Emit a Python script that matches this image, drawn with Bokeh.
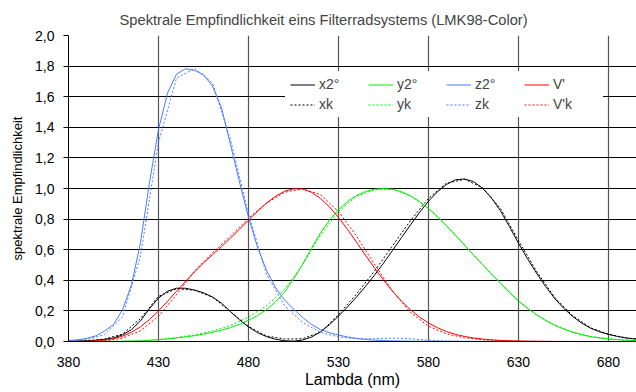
from bokeh.plotting import figure
from bokeh.models import (Legend, LegendItem, FixedTicker, CustomJSTickFormatter, Range1d)
from bokeh.embed import file_html
from bokeh.resources import INLINE

# wavelengths (nm) for the standard curves, 5 nm steps
wl5 = [380, 385, 390, 395, 400, 405, 410, 415, 420, 425, 430, 435, 440, 445, 450, 455,
       460, 465, 470, 475, 480, 485, 490, 495, 500, 505, 510, 515, 520, 525, 530, 535,
       540, 545, 550, 555, 560, 565, 570, 575, 580, 585, 590, 595, 600, 605, 610, 615,
       620, 625, 630, 635, 640, 645, 650, 655, 660, 665, 670, 675, 680, 685, 690, 695, 700]

x2 = [0.0014, 0.0022, 0.0042, 0.0077, 0.0143, 0.0232, 0.0435, 0.0776, 0.1344, 0.2148,
      0.2839, 0.3285, 0.3483, 0.3481, 0.3362, 0.3187, 0.2908, 0.2511, 0.1954, 0.1421,
      0.0956, 0.0580, 0.0320, 0.0147, 0.0049, 0.0024, 0.0093, 0.0291, 0.0633, 0.1096,
      0.1655, 0.2257, 0.2904, 0.3597, 0.4334, 0.5121, 0.5945, 0.6784, 0.7621, 0.8425,
      0.9163, 0.9786, 1.0263, 1.0567, 1.0622, 1.0456, 1.0026, 0.9384, 0.8544, 0.7514,
      0.6424, 0.5419, 0.4479, 0.3608, 0.2835, 0.2187, 0.1649, 0.1212, 0.0874, 0.0636,
      0.0468, 0.0329, 0.0227, 0.0160, 0.0114]

y2 = [0.0000, 0.0001, 0.0001, 0.0002, 0.0004, 0.0006, 0.0012, 0.0022, 0.0040, 0.0073,
      0.0116, 0.0168, 0.0230, 0.0298, 0.0380, 0.0480, 0.0600, 0.0739, 0.0910, 0.1126,
      0.1390, 0.1693, 0.2080, 0.2586, 0.3230, 0.4073, 0.5030, 0.6082, 0.7100, 0.7932,
      0.8620, 0.9149, 0.9540, 0.9800, 0.9950, 1.0000, 0.9950, 0.9786, 0.9520, 0.9154,
      0.8700, 0.8163, 0.7570, 0.6949, 0.6310, 0.5668, 0.5030, 0.4412, 0.3810, 0.3210,
      0.2650, 0.2170, 0.1750, 0.1382, 0.1070, 0.0816, 0.0610, 0.0446, 0.0320, 0.0232,
      0.0170, 0.0119, 0.0082, 0.0057, 0.0041]

z2 = [0.0065, 0.0106, 0.0201, 0.0362, 0.0679, 0.1102, 0.2074, 0.3713, 0.6456, 1.0391,
      1.3856, 1.6230, 1.7471, 1.7826, 1.7721, 1.7441, 1.6692, 1.5281, 1.2876, 1.0419,
      0.8130, 0.6162, 0.4652, 0.3533, 0.2720, 0.2123, 0.1582, 0.1117, 0.0783, 0.0573,
      0.0422, 0.0298, 0.0203, 0.0134, 0.0088, 0.0058, 0.0039, 0.0028, 0.0021, 0.0018,
      0.0017, 0.0014, 0.0011, 0.0010, 0.0008, 0.0006, 0.0003, 0.0002, 0.0002, 0.0001,
      0.0000, 0.0000, 0.0000, 0.0000, 0.0000, 0.0000, 0.0000, 0.0000, 0.0000, 0.0000,
      0.0000, 0.0000, 0.0000, 0.0000, 0.0000]

v_s = [0.0006, 0.0011, 0.0022, 0.0045, 0.0093, 0.0185, 0.0348, 0.0604, 0.0966, 0.1436,
       0.1998, 0.2625, 0.3281, 0.3931, 0.4550, 0.5130, 0.5670, 0.6200, 0.6760, 0.7340,
       0.7930, 0.8510, 0.9040, 0.9490, 0.9820, 0.9980, 0.9970, 0.9750, 0.9350, 0.8800,
       0.8110, 0.7330, 0.6500, 0.5640, 0.4810, 0.4020, 0.3288, 0.2639, 0.2076, 0.1602,
       0.1212, 0.0899, 0.0655, 0.0469, 0.0332, 0.0231, 0.0159, 0.0109, 0.0074, 0.0050,
       0.0033, 0.0022, 0.0015, 0.0010, 0.0007, 0.0005, 0.0003, 0.0002, 0.0001, 0.0001,
       0.0001, 0.0001, 0.0000, 0.0000, 0.0000]

# filter-wheel (LMK98-Color) curves, 10 nm steps
wl10 = [380, 390, 400, 410, 420, 430, 440, 450, 460, 470, 480, 490, 500, 510, 520, 530,
        540, 550, 560, 570, 580, 590, 600, 610, 620, 630, 640, 650, 660, 670, 680, 690, 700]

xk = [0.002, 0.005, 0.016, 0.048, 0.150, 0.295, 0.345, 0.335, 0.290, 0.195, 0.098, 0.036,
      0.016, 0.018, 0.060, 0.175, 0.310, 0.460, 0.625, 0.790, 0.935, 1.035, 1.060, 1.006,
      0.870, 0.660, 0.460, 0.290, 0.170, 0.090, 0.048, 0.023, 0.012]

yk = [0.000, 0.000, 0.001, 0.002, 0.005, 0.013, 0.026, 0.043, 0.068, 0.105, 0.160, 0.232,
      0.340, 0.500, 0.695, 0.850, 0.948, 0.992, 0.995, 0.952, 0.870, 0.757, 0.631, 0.503,
      0.381, 0.266, 0.176, 0.108, 0.062, 0.033, 0.018, 0.009, 0.005]

zk = [0.004, 0.012, 0.045, 0.160, 0.560, 1.300, 1.720, 1.785, 1.690, 1.320, 0.835, 0.440,
      0.235, 0.125, 0.060, 0.030, 0.018, 0.018, 0.022, 0.018, 0.008, 0.003, 0.001, 0.000,
      0.000, 0.000, 0.000, 0.000, 0.000, 0.000, 0.000, 0.000, 0.000]

vk = [0.000, 0.001, 0.005, 0.022, 0.070, 0.165, 0.305, 0.460, 0.580, 0.690, 0.805, 0.905,
      0.975, 0.998, 0.960, 0.850, 0.690, 0.505, 0.330, 0.190, 0.100, 0.050, 0.025, 0.011,
      0.005, 0.002, 0.001, 0.000, 0.000, 0.000, 0.000, 0.000, 0.000]

x_ticks = [380, 430, 480, 530, 580, 630, 680]
y_ticks = [0.0, 0.2, 0.4, 0.6, 0.8, 1.0, 1.2, 1.4, 1.6, 1.8, 2.0]

TITLE = "Spektrale Empfindlichkeit eins Filterradsystems (LMK98-Color)"
FONT = "Liberation Sans"

p = figure(width=636, height=392, output_backend="svg", toolbar_location=None,
           x_range=Range1d(380, 695.6), y_range=Range1d(0, 2.0),
           min_border_left=68, min_border_right=0, min_border_top=35, min_border_bottom=51)
p.outline_line_color = None
p.background_fill_color = "white"

p.title.text = TITLE
p.title.text_font = FONT
p.title.text_font_size = "14.7px"
p.title.text_font_style = "normal"
p.title.align = "left"
p.title.offset = 51
p.title.standoff = 14
p.title.vertical_align = "middle"

# axes
p.xaxis.ticker = FixedTicker(ticks=x_ticks)
p.yaxis.ticker = FixedTicker(ticks=y_ticks)
p.yaxis.formatter = CustomJSTickFormatter(code="return tick.toFixed(1).replace('.', ',');")
for ax in (p.xaxis[0], p.yaxis[0]):
    ax.axis_line_color = "black"
    ax.major_label_text_font = FONT
    ax.major_label_text_font_size = "14px"
    ax.major_label_text_color = "black"
    ax.axis_label_text_font = FONT
    ax.axis_label_text_font_size = "13px"
    ax.axis_label_text_font_style = "normal"
    ax.axis_label_text_color = "black"
    ax.minor_tick_line_color = None
    ax.major_tick_in = 0

p.xaxis.axis_label = "Lambda (nm)"
p.xaxis.axis_label_text_font_size = "16px"
p.xaxis.major_tick_out = 0
p.xaxis.major_label_standoff = 15
p.xaxis.axis_label_standoff = 1

p.yaxis.axis_label = "spektrale Empfindlichkeit"
p.yaxis.major_tick_out = 5
p.yaxis.major_tick_line_color = "black"
p.yaxis.major_label_standoff = 9
p.yaxis.axis_label_standoff = 7

p.xgrid.grid_line_color = "#555555"
p.xgrid.grid_line_width = 1.2
p.ygrid.grid_line_color = "black"
p.ygrid.grid_line_width = 1

BLACK, GREEN, BLUE, RED = "#000000", "#00ee00", "#4a7bff", "#ff0000"

r_x = p.line(wl5, x2, line_color=BLACK, line_width=1)
r_y = p.line(wl5, y2, line_color=GREEN, line_width=1)
r_z = p.line(wl5, z2, line_color=BLUE, line_width=1)
r_v = p.line(wl5, v_s, line_color=RED, line_width=1)
r_xk = p.line(wl10, xk, line_color=BLACK, line_width=1, line_dash="2 2")
r_yk = p.line(wl10, yk, line_color=GREEN, line_width=1, line_dash="2 2")
r_zk = p.line(wl10, zk, line_color=BLUE, line_width=1, line_dash="2 2")
r_vk = p.line(wl10, vk, line_color=RED, line_width=1, line_dash="2 2")

legend = Legend(items=[LegendItem(label="x2°", renderers=[r_x]),
                       LegendItem(label="y2°", renderers=[r_y]),
                       LegendItem(label="z2°", renderers=[r_z]),
                       LegendItem(label="V'", renderers=[r_v]),
                       LegendItem(label="xk", renderers=[r_xk]),
                       LegendItem(label="yk", renderers=[r_yk]),
                       LegendItem(label="zk", renderers=[r_zk]),
                       LegendItem(label="V'k", renderers=[r_vk])],
                location=(217, 224), orientation="horizontal", ncols=4,
                label_text_font=FONT, label_text_font_size="14px",
                label_width=45, label_height=15, glyph_width=25, glyph_height=15,
                label_standoff=4, spacing=4, padding=5, margin=0,
                border_line_alpha=0, background_fill_color="white",
                background_fill_alpha=1.0)
p.add_layout(legend, "center")

open("out.html", "w").write(file_html(p, INLINE))
